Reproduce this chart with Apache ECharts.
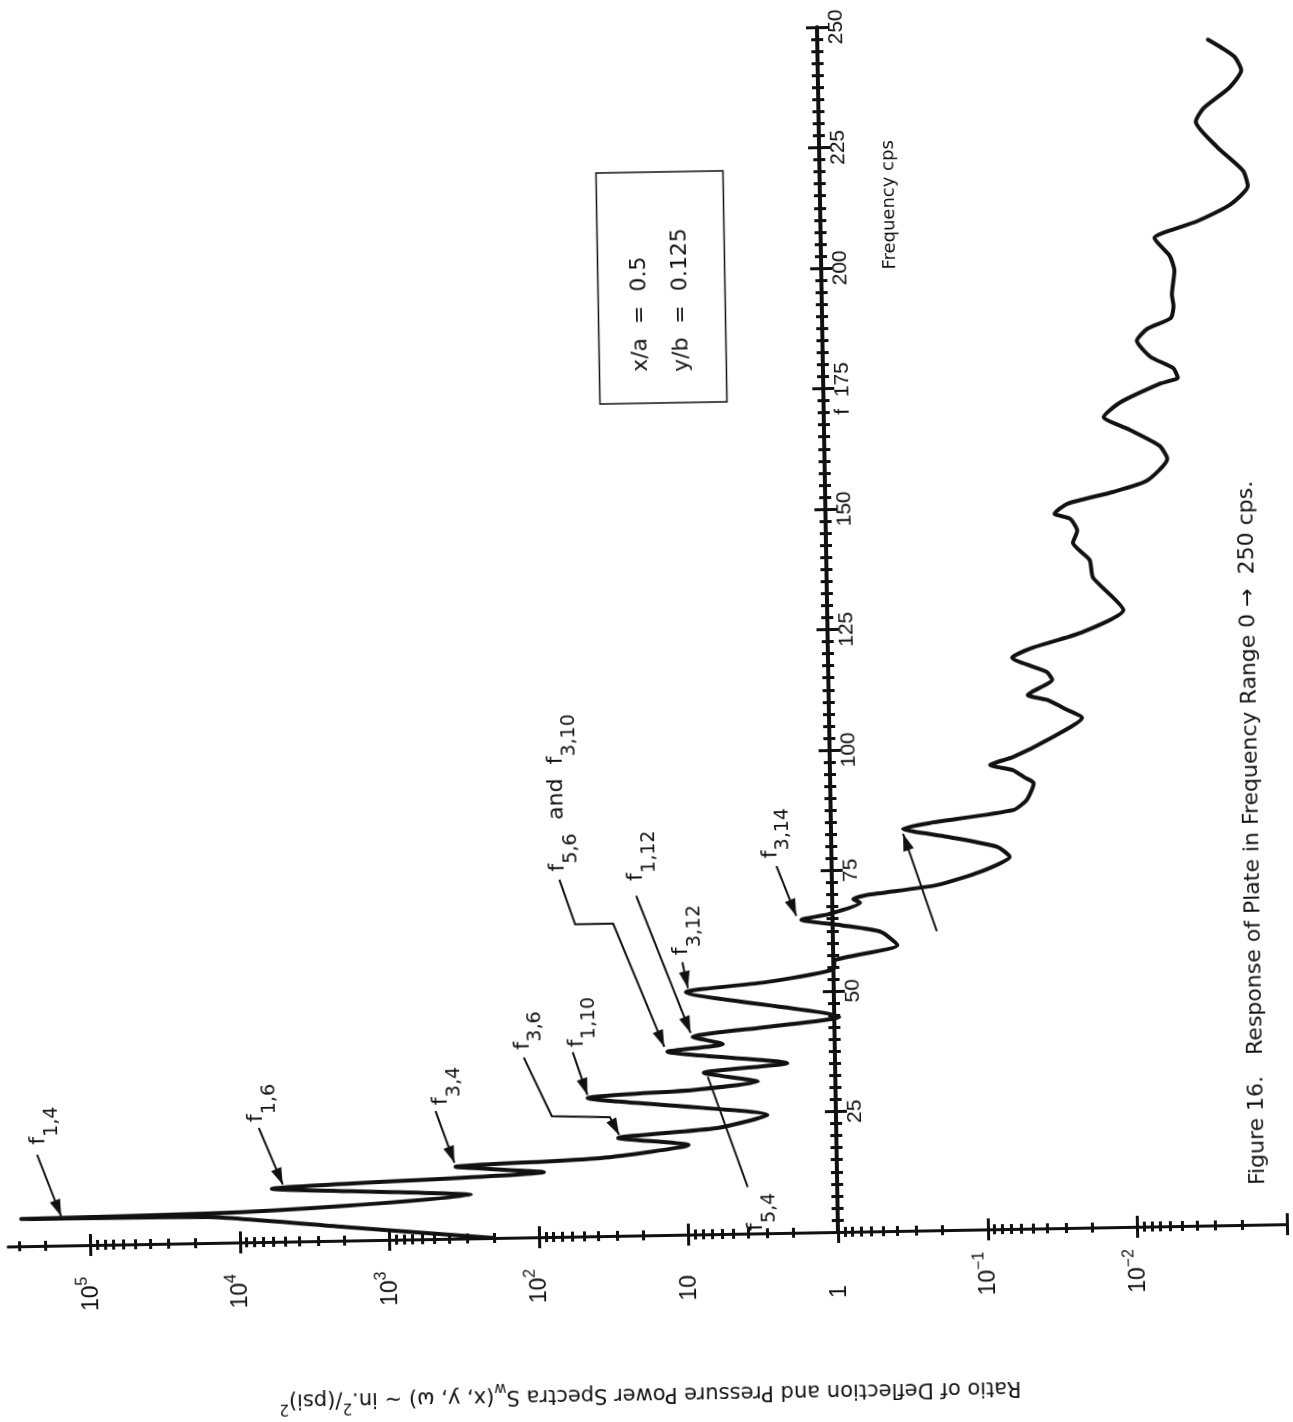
<!DOCTYPE html>
<html><head><meta charset="utf-8">
<script src="https://cdn.jsdelivr.net/npm/echarts@6.0.0/dist/echarts.min.js"></script>
<style>
html,body{margin:0;padding:0;background:#fff;}
#chart{width:1293px;height:1422px;transform:rotate(-1deg);transform-origin:838px 1232px;background:#fff;}
</style></head><body><div id="chart"></div>
<script>
// ---- data ----
const freq = [0, 2.8, 5.4, 5.65, 6.1, 7.2, 9.0, 11.0, 13.5, 14.9, 16.2, 18.6, 20.3, 22.0, 24.5, 28.7, 30.0, 31.5, 33.5, 35.2,
  38.0, 39.4, 41.0, 42.8, 44.6, 50.3, 52.1, 54.5, 56.4, 59.3, 62.1, 63.6, 64.9, 66.0, 68.2, 69.0, 69.8, 71.6, 74.2, 77.2,
  79.3, 81.6, 83.4, 84.5, 86.9, 88.9, 92.4, 93.6, 95.2, 96.3, 97.9, 101.3, 105.8, 107.5, 109.6, 110.7, 113.8, 115.4, 118.5, 120.5,
  123.4, 128.0, 134.8, 138.5, 142.1, 144.6, 147.1, 148.2, 150.2, 152.5, 154.7, 159.2, 161.9, 165.3, 168.1, 171.0, 174.8, 176.0, 178.0, 180.4,
  183.8, 186.2, 188.4, 190.9, 193.2, 198.2, 201.3, 205.1, 206.1, 208.4, 211.7, 215.5, 218.7, 223.7, 229.0, 231.7, 236.0, 239.5, 242.3, 244.3, 246.0];
const ratio = [200, 1950, 16600, 288000, 15800, 1950, 282, 6030, 91.2, 355, 38.0, 9.77, 28.8, 6.31, 2.88, 45.7, 8.91, 3.31, 7.59, 2.09,
  13.2, 5.62, 8.91, 2.82, 0.93, 9.77, 2.82, 1.0, 0.977, 0.372, 0.479, 0.871, 1.62, 1.05, 0.653, 0.724, 0.585, 0.200, 0.102, 0.0646,
  0.0776, 0.168, 0.331, 0.219, 0.0603, 0.0490, 0.0437, 0.0501, 0.0603, 0.0851, 0.0596, 0.0351, 0.0204, 0.0257, 0.0347, 0.0468, 0.0320, 0.0347, 0.0589, 0.0427,
  0.0204, 0.0105, 0.0166, 0.0174, 0.0224, 0.0209, 0.0232, 0.0295, 0.0243, 0.0120, 0.00708, 0.00513, 0.00575, 0.00902, 0.0135, 0.0105, 0.00562, 0.00427, 0.00457, 0.00646,
  0.00794, 0.00676, 0.00468, 0.00447, 0.00457, 0.00437, 0.00468, 0.00589, 0.00513, 0.00302, 0.00182, 0.00138, 0.00148, 0.00219, 0.00302, 0.00269, 0.00178, 0.00148, 0.00163, 0.00200, 0.00245];
const ratioTickLabels = [1e-2, 1e-1, 1, 10, 1e2, 1e3, 1e4, 1e5];
const ratioMajorTicks = [1e-3, 1e-2, 1e-1, 1, 10, 1e2, 1e3, 1e4, 1e5];
const freqTickLabels = {175: 'f  175'};
const modeLabels = ['1,4', '1,6', '3,4', '3,6', '1,10', '5,4', '5,6', '1,12', '3,12', '3,14'];
const modeFreqs = [5.65, 11.0, 14.9, 20.3, 28.7, 33.5, 38.0, 41.0, 50.3, 64.9];

// ---- layout / style ----
const INK = '#111';
const FONT = "'DejaVu Sans', 'Noto Sans', sans-serif";
const TFONT = "'Liberation Sans', 'DejaVu Sans', sans-serif";
const RMIN = 0.000999, RMAX = Math.pow(10, 5.55);
const deRot = (x, y) => { const s = 0.01745; const dX = x - 838, dY = y - 1232; return [838 + dX - s * dY, 1232 + dY + s * dX]; };

const minorTicks = [];
for (let n = -3; n <= 5; n++) for (let k = 2; k <= 9; k++) { const v = k * Math.pow(10, n); if (v < RMAX) minorTicks.push(v); }

const supFmt = v => {
  const e = Math.round(Math.log10(v));
  if (e === 0) return '1';
  if (e === 1) return '10';
  return '10{s|' + (e < 0 ? '\u2212' + (-e) : e) + '}';
};

const chart = echarts.init(document.getElementById('chart'));
const baseX = (extra) => Object.assign({
  type: 'log', logBase: 10, min: RMIN, max: RMAX, inverse: true, position: 'bottom',
  axisLine: {show: false, onZero: false}, splitLine: {show: false}, axisLabel: {show: false},
  axisTick: {show: false}
}, extra);
const baseY = (extra) => Object.assign({
  type: 'value', min: 0, max: 250, interval: 25, position: 'right', offset: -449,
  axisLine: {show: false, onZero: false}, splitLine: {show: false}, axisLabel: {show: false}
}, extra);

const option = {
  animation: false,
  backgroundColor: '#fff',
  grid: {left: 8, right: 6, top: 27, bottom: 190, containLabel: false},
  xAxis: [
    baseX({
      name: 'Ratio of Deflection and Pressure Power Spectra S{b|w}(x, y, \u03c9) ~ in.{p|2}/(psi){p|2}',
      nameLocation: 'middle', nameRotate: 180, nameGap: 142,
      nameTextStyle: {fontSize: 21, fontFamily: FONT, color: INK, lineHeight: 32,
        rich: {b: {fontSize: 15, fontFamily: FONT, color: INK, verticalAlign: 'bottom'},
               p: {fontSize: 15, fontFamily: FONT, color: INK, verticalAlign: 'top'}}},
      axisLine: {show: true, onZero: false, lineStyle: {color: INK, width: 3}},
      axisTick: {show: true, customValues: ratioMajorTicks, length: 11, inside: false, lineStyle: {color: INK, width: 3}},
      axisLabel: {show: true, customValues: ratioTickLabels, rotate: 90, align: 'left', verticalAlign: 'middle', margin: 66,
        fontSize: 23, fontFamily: TFONT, color: INK, lineHeight: 34, formatter: supFmt,
        rich: {s: {fontSize: 16, fontFamily: TFONT, color: INK, verticalAlign: 'top'}}}
    }),
    baseX({axisTick: {show: true, customValues: ratioMajorTicks, length: 11, inside: true, lineStyle: {color: INK, width: 3}}}),
    baseX({axisTick: {show: true, customValues: minorTicks, length: 5, inside: false, lineStyle: {color: INK, width: 3}}}),
    baseX({axisTick: {show: true, customValues: minorTicks, length: 5, inside: true, lineStyle: {color: INK, width: 3}}})
  ],
  yAxis: [
    baseY({
      axisLine: {show: true, onZero: false, lineStyle: {color: INK, width: 4}},
      axisTick: {show: true, length: 11, inside: false, lineStyle: {color: INK, width: 3}},
      minorTick: {show: true, splitNumber: 10, length: 6, lineStyle: {color: INK, width: 3}},
      axisLabel: {show: true, rotate: 90, margin: 9, fontSize: 21, fontFamily: TFONT, color: INK,
        formatter: v => v === 0 ? '' : (freqTickLabels[v] || String(v))}
    }),
    baseY({
      axisTick: {show: true, length: 11, inside: true, lineStyle: {color: INK, width: 3}},
      minorTick: {show: true, splitNumber: 10, length: 6, lineStyle: {color: INK, width: 3}}
    })
  ],
  series: [{
    type: 'line', xAxisIndex: 0, yAxisIndex: 0, smooth: 0.2, showSymbol: false, symbol: 'none',
    lineStyle: {color: INK, width: 4, join: 'round', cap: 'round'},
    data: freq.map((f, i) => [ratio[i], f])
  }]
};
chart.setOption(option);

// ---- annotations (anchored to the data peaks; offsets in px) ----
const annGeom = [
  {tip: [40, -2], path: [[17, -64]], lab: [19, -74], head: true},
  {tip: [11, -4], path: [[-12, -61]], lab: [-14, -67], head: true},
  {tip: [-1, -4], path: [[-19, -56]], lab: [-13, -62], head: true},
  {tip: [1, -3], path: [[-8, -21], [-66, -23], [-93, -82]], lab: [-94, -90], head: true},
  {tip: [0, -3], path: [[-14, -46]], lab: [-10, -51], head: true},
  {tip: [4, 4], path: [[42, 115]], lab: [50, 159], head: false},
  {tip: [-3, -5], path: [[-52, -129], [-90, -129], [-105, -174]], lab: [-106, -182], head: true, extra: '3,10'},
  {tip: [-2, -4], path: [[-54, -142]], lab: [-54, -157], head: true},
  {tip: [2, -4], path: [[-3, -30]], lab: [-4, -37], head: true},
  {tip: [-5, -4], path: [[-24, -54]], lab: [-30, -62], head: true}
];
const annRich = {
  m: {fontSize: 22, fontFamily: FONT, fill: INK, color: INK, lineHeight: 46},
  s: {fontSize: 19, fontFamily: FONT, fill: INK, color: INK, verticalAlign: 'bottom'}
};
function arrowHead(tip, from) {
  const dx = tip[0] - from[0], dy = tip[1] - from[1];
  const L = Math.hypot(dx, dy) || 1, ux = dx / L, uy = dy / L;
  const len = 17, w = 5.5;
  const bx = tip[0] - ux * len, by = tip[1] - uy * len;
  return {type: 'polygon', silent: true, shape: {points: [tip, [bx - uy * w, by + ux * w], [bx + uy * w, by - ux * w]]}, style: {fill: INK}};
}
function buildGraphics() {
  const g = [];
  const addArrow = (p, geo) => {
    const tip = [p[0] + geo.tip[0], p[1] + geo.tip[1]];
    const pts = [tip].concat(geo.path.map(o => [p[0] + o[0], p[1] + o[1]]));
    g.push({type: 'polyline', silent: true, shape: {points: pts}, style: {stroke: INK, lineWidth: 2, fill: null}});
    if (geo.head) g.push(arrowHead(tip, pts[1]));
  };
  modeFreqs.forEach((mf, k) => {
    const i = freq.indexOf(mf);
    const p = chart.convertToPixel({seriesIndex: 0}, [ratio[i], freq[i]]);
    const geo = annGeom[k];
    addArrow(p, geo);
    let txt = '{m|f}{s|' + modeLabels[k] + '}';
    if (geo.extra) txt += '{m|  and  f}{s|' + geo.extra + '}';
    g.push({type: 'text', silent: true, x: p[0] + geo.lab[0], y: p[1] + geo.lab[1], rotation: Math.PI / 2,
      style: {text: txt, rich: annRich, fill: INK, align: 'left', verticalAlign: 'middle', textAlign: 'left', textVerticalAlign: 'middle'}});
  });
  // unlabeled arrow to the peak near 83 cps
  const iu = freq.indexOf(83.4);
  const pu = chart.convertToPixel({seriesIndex: 0}, [ratio[iu], freq[iu]]);
  addArrow(pu, {tip: [0, 5], path: [[32, 103]], head: true});

  // parameter box
  const bc = deRot(661.5, 287.5);
  g.push({type: 'rect', silent: true, shape: {x: bc[0] - 63.5, y: bc[1] - 115.5, width: 127, height: 231}, style: {fill: null, stroke: INK, lineWidth: 1.5}});
  const t1 = deRot(641, 372), t2 = deRot(682, 372);
  g.push({type: 'text', silent: true, x: t1[0], y: t1[1], rotation: Math.PI / 2,
    style: {text: 'x/a  =  0.5', font: '22px ' + FONT, fill: INK, align: 'left', verticalAlign: 'middle'}});
  g.push({type: 'text', silent: true, x: t2[0], y: t2[1], rotation: Math.PI / 2,
    style: {text: 'y/b  =  0.125', font: '22px ' + FONT, fill: INK, align: 'left', verticalAlign: 'middle'}});
  // frequency axis title
  const fc = deRot(889, 205);
  g.push({type: 'text', silent: true, x: fc[0], y: fc[1], rotation: Math.PI / 2,
    style: {text: 'Frequency cps', font: '18px ' + FONT, fill: INK, align: 'center', verticalAlign: 'middle'}});
  // caption
  const cc = deRot(1258, 1185);
  g.push({type: 'text', silent: true, x: cc[0], y: cc[1], rotation: Math.PI / 2,
    style: {text: 'Figure 16.   Response of Plate in Frequency Range 0 \u2192  250 cps.', font: '22px ' + FONT, fill: INK, align: 'left', verticalAlign: 'middle'}});
  return g;
}
chart.setOption({graphic: buildGraphics()});
</script></body></html>
